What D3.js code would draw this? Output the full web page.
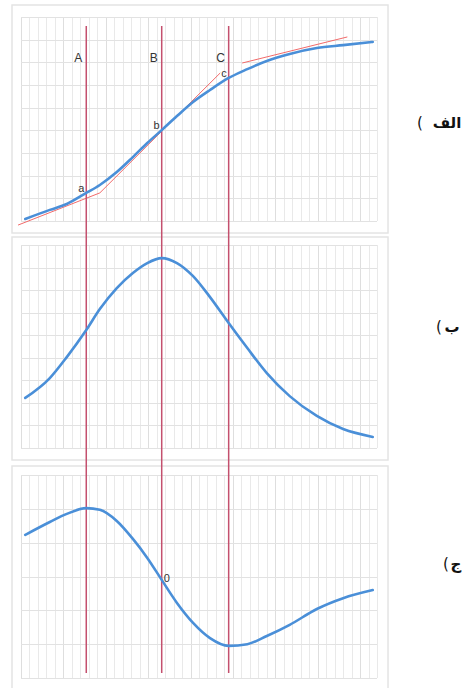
<!DOCTYPE html>
<html>
<head>
<meta charset="utf-8">
<script src="https://cdn.jsdelivr.net/npm/d3@7"></script>
<style>
  body { margin: 0; background: #fff; }
  svg { display: block; }
</style>
</head>
<body>
<svg width="465" height="688"></svg>
<script>
// sample positions along the time axis (grid units)
const xs = [0.5, 3.4, 5.4, 7.7, 9.3, 11.3, 13.2, 14.9, 16.6, 18.4, 20.3, 22.3, 24.5, 26.7, 29.0, 31.7, 34.9, 38.0, 41.5];

// panel (alef): growth curve
const growth = [0.09, 0.49, 0.75, 1.24, 1.59, 2.16, 2.82, 3.44, 4.01, 4.63, 5.25, 5.78, 6.31, 6.7, 7.06, 7.37, 7.63, 7.76, 7.9];
// panel (be): rate
const rate = [2.22, 3.1, 4.03, 5.23, 6.16, 7.09, 7.76, 8.2, 8.42, 8.2, 7.62, 6.69, 5.54, 4.43, 3.32, 2.3, 1.42, 0.84, 0.49];
// panel (jim): acceleration
const accel = [1.23, 1.61, 1.85, 2.02, 1.97, 1.64, 1.11, 0.55, -0.1, -0.78, -1.37, -1.82, -2.05, -2.0, -1.76, -1.43, -0.96, -0.64, -0.4];

const markers = [7.7, 16.6, 24.5];
const markerNames = ["A", "B", "C"];
const pointNames = ["a", "b", "c"];
// red tangent segments on the growth curve
const tangents = [
  [[-0.35, -0.18], [9.3, 1.24]],
  [[9.3, 1.24], [23.5, 6.53]],
  [[26.1, 6.97], [38.5, 8.12]]
];
// side labels: letter and the bracket drawn to its left
const panelLabels = ["الف", "ب", "ج"];
const panelBrackets = ["(", "(", "("];

const svg = d3.select("svg");

const x = d3.scaleLinear().domain([0, 42]).range([21, 377]);

const panels = [
  { series: growth, card: [12, 5, 376, 228], top: 17, bottom: 221, domain: [0, 9], labelY: 128, wordX: 447, brX: 420 },
  { series: rate, card: [12, 237, 376, 223], top: 245, bottom: 448, domain: [0, 9], labelY: 332, wordX: 452, brX: 439 },
  { series: accel, card: [12, 466, 376, 240], top: 475, bottom: 678, domain: [-3, 3], labelY: 569, wordX: 456, brX: 446 }
];

panels.forEach((p, pi) => {
  p.y = d3.scaleLinear().domain(p.domain).range([p.bottom, p.top]);

  const g = svg.append("g");

  // card
  g.append("rect")
    .attr("x", p.card[0])
    .attr("y", p.card[1])
    .attr("width", p.card[2])
    .attr("height", p.card[3])
    .attr("fill", "#fff")
    .attr("stroke", "#e4e4e4")
    .attr("stroke-width", 1.5);

  // vertical grid
  g.selectAll("line.vgrid")
    .data(d3.range(0, 43))
    .join("line")
    .attr("class", "vgrid")
    .attr("x1", d => Math.round(x(d)) + 0.5)
    .attr("x2", d => Math.round(x(d)) + 0.5)
    .attr("y1", p.top)
    .attr("y2", p.bottom)
    .attr("stroke", d => d % 5 === 0 ? "#dedede" : "#e9e9e9")
    .attr("stroke-width", 1);

  // horizontal grid
  g.selectAll("line.hgrid")
    .data(d3.range(p.domain[0], p.domain[1] + 1))
    .join("line")
    .attr("class", "hgrid")
    .attr("x1", x(0))
    .attr("x2", x(42))
    .attr("y1", d => Math.round(p.y(d)) + 0.5)
    .attr("y2", d => Math.round(p.y(d)) + 0.5)
    .attr("stroke", "#e2e2e2")
    .attr("stroke-width", 1);

  // side label
  const lab = svg.append("g")
    .attr("font-family", "'DejaVu Sans', sans-serif")
    .attr("font-weight", "bold")
    .attr("font-size", 15)
    .attr("fill", "#111")
    .attr("text-anchor", "middle");
  lab.append("text")
    .attr("x", p.wordX)
    .attr("y", p.labelY)
    .text(panelLabels[pi]);
  lab.append("text")
    .attr("x", p.brX)
    .attr("y", p.labelY)
    .attr("font-weight", "normal")
    .text(panelBrackets[pi]);
});

const firstPanel = panels[0], lastPanel = panels[2];

// tangents on the first panel
const seg = d3.line().x(d => x(d[0])).y(d => firstPanel.y(d[1]));
svg.selectAll("path.tangent")
  .data(tangents)
  .join("path")
  .attr("class", "tangent")
  .attr("d", seg)
  .attr("fill", "none")
  .attr("stroke", "#f26a6a")
  .attr("stroke-width", 1);

// vertical marker lines across all panels
svg.selectAll("line.marker")
  .data(markers)
  .join("line")
  .attr("class", "marker")
  .attr("x1", d => x(d))
  .attr("x2", d => x(d))
  .attr("y1", firstPanel.y(8.6))
  .attr("y2", lastPanel.y(-2.85))
  .attr("stroke", "#c4506e")
  .attr("stroke-width", 1.5);

// curves
panels.forEach(p => {
  const line = d3.line()
    .x((d, i) => x(xs[i]))
    .y(d => p.y(d))
    .curve(d3.curveMonotoneX);

  svg.append("path")
    .datum(p.series)
    .attr("d", line)
    .attr("fill", "none")
    .attr("stroke", "#4a8fd8")
    .attr("stroke-width", 2.6)
    .attr("stroke-linecap", "round");
});

// A, B, C labels
svg.selectAll("text.mname")
  .data(markers)
  .join("text")
  .attr("class", "mname")
  .attr("x", d => x(d) - 8)
  .attr("y", firstPanel.y(7.0))
  .attr("text-anchor", "middle")
  .attr("font-family", "'Liberation Sans', Arial, sans-serif")
  .attr("font-size", 12)
  .attr("fill", "#333")
  .text((d, i) => markerNames[i]);

// a, b, c points on the growth curve
svg.selectAll("text.pname")
  .data(markers)
  .join("text")
  .attr("class", "pname")
  .attr("x", d => x(d) - 2)
  .attr("y", d => firstPanel.y(growth[xs.indexOf(d)]) - 1)
  .attr("text-anchor", "end")
  .attr("font-family", "'Liberation Sans', Arial, sans-serif")
  .attr("font-size", 11)
  .attr("fill", "#333")
  .text((d, i) => pointNames[i]);

// zero label in the last panel
svg.append("text")
  .attr("x", x(markers[1]) + 2)
  .attr("y", lastPanel.y(0) + 5)
  .attr("font-family", "'Liberation Sans', Arial, sans-serif")
  .attr("font-size", 11)
  .attr("fill", "#333")
  .text("0");
</script>
</body>
</html>
